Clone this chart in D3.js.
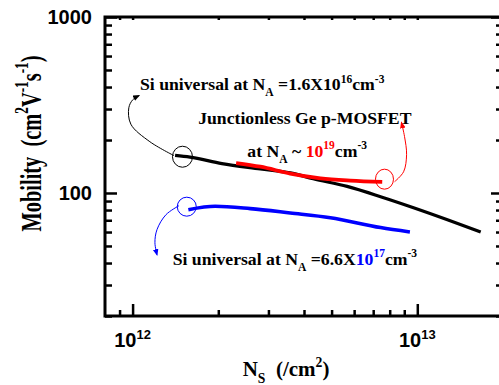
<!DOCTYPE html>
<html>
<head>
<meta charset="utf-8">
<script src="https://cdn.jsdelivr.net/npm/d3@7/dist/d3.min.js"></script>
<style>
  body { margin: 0; background: #fff; }
</style>
</head>
<body>
<script>
/*
    Values: sheet density Ns (/cm2) and hole mobility
    (cm2/Vs) for the two Si universal curves and the junctionless Ge device.
*/
var w = 499;
var h = 385;

var siLowNs   = [1.41e12, 1.59e12, 2.06e12, 2.81e12, 3.58e12, 4.31e12, 5.67e12, 7.43e12, 9.7e12, 1.276e13, 1.67e13];
var siLowMob  = [163.5, 160, 146.7, 137, 130, 120.5, 109, 95.3, 82.5, 70.5, 60];

var geNs      = [2.31e12, 2.81e12, 3.58e12, 4.57e12, 5.82e12, 7.53e12];
var geMob     = [148, 141, 128.8, 121, 117.5, 115.5];

var siHighNs  = [1.57e12, 1.95e12, 2.59e12, 3.58e12, 4.95e12, 7.43e12, 9.42e12];
var siHighMob = [80.4, 84, 81.5, 77, 72.4, 63.6, 60];

var xMajor = [1e12, 1e13];
var xMinor = [9e11, 2e12, 3e12, 4e12, 5e12, 6e12, 7e12, 8e12, 9e12];
var yMajor = [100, 1000];
var yMinor = [20, 30, 40, 50, 60, 70, 80, 90, 200, 300, 400, 500, 600, 700, 800, 900];

// annotation anchors, in data units
var blackCircle = [1.497e12, 160.7];
var blueCircle  = [1.55e12, 83.6];
var redCircle   = [7.67e12, 119.8];
var blackArrow  = [[1.398e12, 163], [1.15e12, 195.6], [0.986e12, 246], [0.97e12, 305], [1.002e12, 339], [1.052e12, 357]];
var redArrow    = [[8.32e12, 115.9], [8.95e12, 132], [9.17e12, 165], [9.02e12, 209], [8.8e12, 251]];
var blueArrow   = [[1.456e12, 84.7], [1.31e12, 75.3], [1.218e12, 61.9], [1.198e12, 52.2], [1.218e12, 44.6]];

var serif = "'Liberation Serif', 'Times New Roman', serif";
var sans = "'Liberation Sans', Arial, sans-serif";

var xScale = d3.scaleLog()
    .domain([8e11, 2e13])
    .range([105, 503]);

var yScale = d3.scaleLog()
    .domain([20, 1000])
    .range([316, 17]);

var svg = d3.select("body")
    .append("svg")
    .attr("width", w)
    .attr("height", h);

/*
    Writes a text made of pieces, each piece normal, sub or sup,
    with an optional colour.
*/
function richText(x, y, size, parts, family){
    var t = svg.append("text")
        .attr("x", x)
        .attr("y", y)
        .style("font-family", family || serif)
        .style("font-weight", "bold")
        .style("font-size", size + "px");
    var prev = 0;
    parts.forEach(function(p){
        var off = 0, fs = size;
        if(p[1] == "sup"){ off = -0.42 * size; fs = size * 0.65; }
        if(p[1] == "sub"){ off = 0.33 * size; fs = size * 0.65; }
        t.append("tspan")
            .attr("dy", off - prev)
            .style("font-size", fs + "px")
            .style("fill", p[2] || "#000")
            .text(p[0]);
        prev = off;
    });
    return t;
}

// curves
var line = d3.line()
    .x(function(d){ return xScale(d[0]); })
    .y(function(d){ return yScale(d[1]); })
    .curve(d3.curveMonotoneX);

svg.append("path")
    .datum(d3.zip(siLowNs, siLowMob))
    .attr("d", line)
    .attr("fill", "none")
    .attr("stroke", "#000")
    .attr("stroke-width", 3.2);

svg.append("path")
    .datum(d3.zip(siHighNs, siHighMob))
    .attr("d", line)
    .attr("fill", "none")
    .attr("stroke", "#0000ff")
    .attr("stroke-width", 3.6);

svg.append("path")
    .datum(d3.zip(geNs, geMob))
    .attr("d", line)
    .attr("fill", "none")
    .attr("stroke", "#ff0000")
    .attr("stroke-width", 3.8);

// circles
svg.append("ellipse")
    .attr("cx", xScale(blackCircle[0])).attr("cy", yScale(blackCircle[1]))
    .attr("rx", 10).attr("ry", 10.5)
    .attr("fill", "none").attr("stroke", "#000").attr("stroke-width", 1);
svg.append("ellipse")
    .attr("cx", xScale(blueCircle[0])).attr("cy", yScale(blueCircle[1]))
    .attr("rx", 9.5).attr("ry", 9.5)
    .attr("fill", "none").attr("stroke", "#0000ff").attr("stroke-width", 1);
svg.append("ellipse")
    .attr("cx", xScale(redCircle[0])).attr("cy", yScale(redCircle[1]))
    .attr("rx", 9).attr("ry", 10)
    .attr("fill", "none").attr("stroke", "#ff0000").attr("stroke-width", 1);

// arrows
var defs = svg.append("defs");
[["ab", "#000"], ["ar", "#ff0000"], ["au", "#0000ff"]].forEach(function(m){
    defs.append("marker")
        .attr("id", m[0])
        .attr("viewBox", "0 -5 10 10")
        .attr("refX", 8)
        .attr("refY", 0)
        .attr("markerWidth", 7)
        .attr("markerHeight", 7)
        .attr("markerUnits", "userSpaceOnUse")
        .attr("orient", "auto")
        .append("path")
        .attr("d", "M0,-4L10,0L0,4Z")
        .attr("fill", m[1]);
});

var arrowLine = d3.line()
    .x(function(d){ return xScale(d[0]); })
    .y(function(d){ return yScale(d[1]); })
    .curve(d3.curveCatmullRom);

svg.append("path").datum(blackArrow).attr("d", arrowLine)
    .attr("fill", "none").attr("stroke", "#000").attr("stroke-width", 1)
    .attr("marker-end", "url(#ab)");
svg.append("path").datum(redArrow).attr("d", arrowLine)
    .attr("fill", "none").attr("stroke", "#ff0000").attr("stroke-width", 1)
    .attr("marker-end", "url(#ar)");
svg.append("path").datum(blueArrow).attr("d", arrowLine)
    .attr("fill", "none").attr("stroke", "#0000ff").attr("stroke-width", 1)
    .attr("marker-end", "url(#au)");

// annotation texts
richText(xScale(1.062e12), yScale(383), 17.7, [
    ["Si universal at N"], ["A", "sub"], [" =1.6X10"], ["16", "sup"], ["cm"], ["-3", "sup"]
]);
richText(xScale(1.70e12), yScale(246.6), 17.7, [
    ["Junctionless Ge p-MOSFET"]
]);
richText(xScale(2.53e12), yScale(160.7), 17.7, [
    ["at N"], ["A", "sub"], [" ~ "], ["10", "n", "#ff0000"], ["19", "sup", "#ff0000"], ["cm"], ["-3", "sup"]
]);
richText(xScale(1.383e12), yScale(39.1), 17.7, [
    ["Si universal at N"], ["A", "sub"], [" =6.6X"], ["10", "n", "#0000ff"], ["17", "sup", "#0000ff"], ["cm"], ["-3", "sup"]
]);

// axes: ticks point inwards on all four sides
var x0 = xScale.range()[0], x1 = xScale.range()[1];
var y0 = yScale.range()[0], y1 = yScale.range()[1];

function ticks(g, axis){ g.call(axis); g.select(".domain").remove(); g.selectAll("text").remove(); g.selectAll("line").attr("stroke-width", 2.5); }

svg.append("g").attr("transform", "translate(0," + y0 + ")")
    .call(ticks, d3.axisBottom(xScale).tickValues(xMajor).tickSize(-12));
svg.append("g").attr("transform", "translate(0," + y0 + ")")
    .call(ticks, d3.axisBottom(xScale).tickValues(xMinor).tickSize(-6));
svg.append("g").attr("transform", "translate(0," + y1 + ")")
    .call(ticks, d3.axisTop(xScale).tickValues(xMajor.concat(xMinor)).tickSize(-3));

svg.append("g").attr("transform", "translate(" + x0 + ",0)")
    .call(ticks, d3.axisLeft(yScale).tickValues(yMajor).tickSize(-12));
svg.append("g").attr("transform", "translate(" + x0 + ",0)")
    .call(ticks, d3.axisLeft(yScale).tickValues(yMinor).tickSize(-7));
svg.append("g").attr("transform", "translate(" + x1 + ",0)")
    .call(ticks, d3.axisRight(yScale).tickValues(yMajor).tickSize(-12));
svg.append("g").attr("transform", "translate(" + x1 + ",0)")
    .call(ticks, d3.axisRight(yScale).tickValues(yMinor).tickSize(-7));

svg.append("rect")
    .attr("x", x0).attr("y", y1)
    .attr("width", x1 - x0).attr("height", y0 - y1)
    .attr("fill", "none")
    .attr("stroke", "#000")
    .attr("stroke-width", 3);

// tick labels
yMajor.forEach(function(v){
    svg.append("text")
        .attr("x", x0 - 13)
        .attr("y", yScale(v) + 7)
        .attr("text-anchor", "end")
        .style("font-family", sans)
        .style("font-weight", "bold")
        .style("font-size", "20px")
        .text(v);
});
xMajor.forEach(function(v){
    richText(xScale(v), y0 + 31, 20, [["10"], [String(Math.round(Math.log10(v))), "sup"]], sans)
        .attr("text-anchor", "middle");
});

// axis titles
richText(286, 376, 21, [["N"], ["S", "sub"], ["\u2002(/cm"], ["2", "sup"], [")"]])
    .attr("text-anchor", "middle");

richText(0, 0, 30, [["Mobility\u2002(cm"], ["2", "sup"], ["V"], ["-1", "sup"], ["s"], ["-1", "sup"], [")"]])
    .attr("text-anchor", "middle")
    .attr("transform", "translate(41,143.5) rotate(-90) scale(0.68,1)");
</script>
</body>
</html>
